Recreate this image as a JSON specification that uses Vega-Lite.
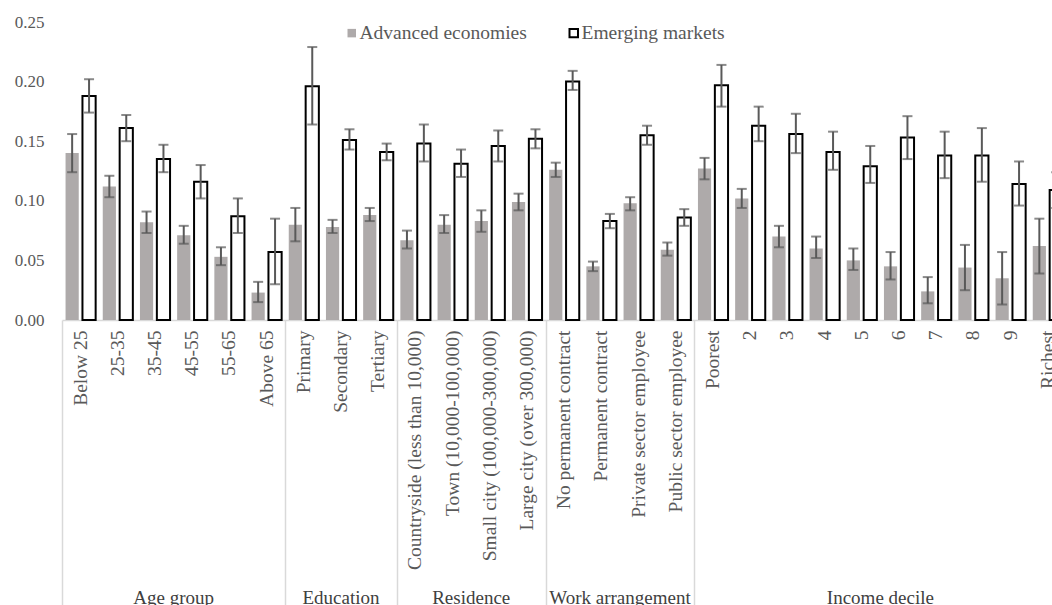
{
  "$schema": "https://vega.github.io/schema/vega-lite/v6.json",
  "autosize": "none",
  "width": 990,
  "height": 298,
  "padding": {"left": 62, "top": 22, "right": 0, "bottom": 285},
  "background": "#ffffff",
  "config": {
    "view": {"stroke": null},
    "font": "Liberation Serif",
    "axis": {"grid": false, "labelFont": "Liberation Serif", "labelColor": "#595959", "title": null}
  },
  "data": {
    "values": [
      {"group": "Age group", "category": "Below 25", "series": "Advanced economies", "value": 0.140, "lo": 0.124, "hi": 0.156},
      {"group": "Age group", "category": "Below 25", "series": "Emerging markets", "value": 0.188, "lo": 0.174, "hi": 0.202},
      {"group": "Age group", "category": "25-35", "series": "Advanced economies", "value": 0.112, "lo": 0.103, "hi": 0.121},
      {"group": "Age group", "category": "25-35", "series": "Emerging markets", "value": 0.161, "lo": 0.150, "hi": 0.172},
      {"group": "Age group", "category": "35-45", "series": "Advanced economies", "value": 0.082, "lo": 0.073, "hi": 0.091},
      {"group": "Age group", "category": "35-45", "series": "Emerging markets", "value": 0.135, "lo": 0.124, "hi": 0.147},
      {"group": "Age group", "category": "45-55", "series": "Advanced economies", "value": 0.071, "lo": 0.064, "hi": 0.079},
      {"group": "Age group", "category": "45-55", "series": "Emerging markets", "value": 0.116, "lo": 0.102, "hi": 0.130},
      {"group": "Age group", "category": "55-65", "series": "Advanced economies", "value": 0.053, "lo": 0.046, "hi": 0.061},
      {"group": "Age group", "category": "55-65", "series": "Emerging markets", "value": 0.087, "lo": 0.073, "hi": 0.102},
      {"group": "Age group", "category": "Above 65", "series": "Advanced economies", "value": 0.023, "lo": 0.015, "hi": 0.032},
      {"group": "Age group", "category": "Above 65", "series": "Emerging markets", "value": 0.057, "lo": 0.030, "hi": 0.085},
      {"group": "Education", "category": "Primary", "series": "Advanced economies", "value": 0.080, "lo": 0.066, "hi": 0.094},
      {"group": "Education", "category": "Primary", "series": "Emerging markets", "value": 0.196, "lo": 0.164, "hi": 0.229},
      {"group": "Education", "category": "Secondary", "series": "Advanced economies", "value": 0.078, "lo": 0.073, "hi": 0.084},
      {"group": "Education", "category": "Secondary", "series": "Emerging markets", "value": 0.151, "lo": 0.143, "hi": 0.160},
      {"group": "Education", "category": "Tertiary", "series": "Advanced economies", "value": 0.088, "lo": 0.083, "hi": 0.094},
      {"group": "Education", "category": "Tertiary", "series": "Emerging markets", "value": 0.141, "lo": 0.134, "hi": 0.148},
      {"group": "Residence", "category": "Countryside (less than 10,000)", "series": "Advanced economies", "value": 0.067, "lo": 0.060, "hi": 0.075},
      {"group": "Residence", "category": "Countryside (less than 10,000)", "series": "Emerging markets", "value": 0.148, "lo": 0.133, "hi": 0.164},
      {"group": "Residence", "category": "Town (10,000-100,000)", "series": "Advanced economies", "value": 0.080, "lo": 0.073, "hi": 0.088},
      {"group": "Residence", "category": "Town (10,000-100,000)", "series": "Emerging markets", "value": 0.131, "lo": 0.120, "hi": 0.143},
      {"group": "Residence", "category": "Small city (100,000-300,000)", "series": "Advanced economies", "value": 0.083, "lo": 0.074, "hi": 0.092},
      {"group": "Residence", "category": "Small city (100,000-300,000)", "series": "Emerging markets", "value": 0.146, "lo": 0.133, "hi": 0.159},
      {"group": "Residence", "category": "Large city (over 300,000)", "series": "Advanced economies", "value": 0.099, "lo": 0.092, "hi": 0.106},
      {"group": "Residence", "category": "Large city (over 300,000)", "series": "Emerging markets", "value": 0.152, "lo": 0.144, "hi": 0.160},
      {"group": "Work arrangement", "category": "No permanent contract", "series": "Advanced economies", "value": 0.126, "lo": 0.120, "hi": 0.132},
      {"group": "Work arrangement", "category": "No permanent contract", "series": "Emerging markets", "value": 0.200, "lo": 0.193, "hi": 0.209},
      {"group": "Work arrangement", "category": "Permanent contract", "series": "Advanced economies", "value": 0.045, "lo": 0.041, "hi": 0.049},
      {"group": "Work arrangement", "category": "Permanent contract", "series": "Emerging markets", "value": 0.083, "lo": 0.077, "hi": 0.089},
      {"group": "Work arrangement", "category": "Private sector employee", "series": "Advanced economies", "value": 0.098, "lo": 0.092, "hi": 0.103},
      {"group": "Work arrangement", "category": "Private sector employee", "series": "Emerging markets", "value": 0.155, "lo": 0.147, "hi": 0.163},
      {"group": "Work arrangement", "category": "Public sector employee", "series": "Advanced economies", "value": 0.059, "lo": 0.054, "hi": 0.065},
      {"group": "Work arrangement", "category": "Public sector employee", "series": "Emerging markets", "value": 0.086, "lo": 0.079, "hi": 0.093},
      {"group": "Income decile", "category": "Poorest", "series": "Advanced economies", "value": 0.127, "lo": 0.118, "hi": 0.136},
      {"group": "Income decile", "category": "Poorest", "series": "Emerging markets", "value": 0.197, "lo": 0.179, "hi": 0.214},
      {"group": "Income decile", "category": "2", "series": "Advanced economies", "value": 0.102, "lo": 0.094, "hi": 0.110},
      {"group": "Income decile", "category": "2", "series": "Emerging markets", "value": 0.163, "lo": 0.150, "hi": 0.179},
      {"group": "Income decile", "category": "3", "series": "Advanced economies", "value": 0.070, "lo": 0.061, "hi": 0.079},
      {"group": "Income decile", "category": "3", "series": "Emerging markets", "value": 0.156, "lo": 0.140, "hi": 0.173},
      {"group": "Income decile", "category": "4", "series": "Advanced economies", "value": 0.060, "lo": 0.052, "hi": 0.070},
      {"group": "Income decile", "category": "4", "series": "Emerging markets", "value": 0.141, "lo": 0.126, "hi": 0.158},
      {"group": "Income decile", "category": "5", "series": "Advanced economies", "value": 0.050, "lo": 0.042, "hi": 0.060},
      {"group": "Income decile", "category": "5", "series": "Emerging markets", "value": 0.129, "lo": 0.115, "hi": 0.146},
      {"group": "Income decile", "category": "6", "series": "Advanced economies", "value": 0.045, "lo": 0.034, "hi": 0.057},
      {"group": "Income decile", "category": "6", "series": "Emerging markets", "value": 0.153, "lo": 0.135, "hi": 0.171},
      {"group": "Income decile", "category": "7", "series": "Advanced economies", "value": 0.024, "lo": 0.014, "hi": 0.036},
      {"group": "Income decile", "category": "7", "series": "Emerging markets", "value": 0.138, "lo": 0.119, "hi": 0.158},
      {"group": "Income decile", "category": "8", "series": "Advanced economies", "value": 0.044, "lo": 0.025, "hi": 0.063},
      {"group": "Income decile", "category": "8", "series": "Emerging markets", "value": 0.138, "lo": 0.116, "hi": 0.161},
      {"group": "Income decile", "category": "9", "series": "Advanced economies", "value": 0.035, "lo": 0.013, "hi": 0.057},
      {"group": "Income decile", "category": "9", "series": "Emerging markets", "value": 0.114, "lo": 0.096, "hi": 0.133},
      {"group": "Income decile", "category": "Richest", "series": "Advanced economies", "value": 0.062, "lo": 0.039, "hi": 0.085},
      {"group": "Income decile", "category": "Richest", "series": "Emerging markets", "value": 0.109, "lo": 0.094, "hi": 0.124}
    ]
  },
  "encoding": {
    "xOffset": {
      "field": "series", "type": "nominal",
      "sort": ["Advanced economies", "Emerging markets"],
      "scale": {"paddingInner": 0.22, "paddingOuter": 0.21}
    }
  },
  "resolve": {"axis": {"x": "independent"}},
  "layer": [
    {
      "mark": {"type": "bar", "strokeWidth": 2},
      "encoding": {
        "x": {
          "field": "category", "type": "nominal", "sort": null,
          "scale": {"range": [0, 1004.4], "paddingInner": 0, "paddingOuter": 0},
          "axis": {
            "orient": "bottom", "labelAngle": 270, "labelPadding": 10, "labelFontSize": 19.5,
            "labelLimit": 400, "labelOverlap": false, "ticks": false, "tickSize": 0,
            "domainColor": "#d9d9d9", "domainWidth": 1.5
          }
        },
        "y": {
          "field": "value", "type": "quantitative", "title": null,
          "scale": {"domain": [0, 0.25], "nice": false},
          "axis": {
            "values": [0, 0.05, 0.1, 0.15, 0.2, 0.25], "format": ".2f",
            "domain": false, "ticks": false, "tickSize": 0, "labelPadding": 18, "labelFontSize": 17
          }
        },
        "fill": {
          "field": "series", "type": "nominal",
          "sort": ["Advanced economies", "Emerging markets"],
          "scale": {"range": ["#aeaaaa", "#ffffff"]},
          "legend": {
            "orient": "none", "legendX": 280, "legendY": 1, "direction": "horizontal", "title": null,
            "symbolType": "square", "symbolSize": 72, "symbolStrokeWidth": 2,
            "labelFont": "Liberation Serif", "labelFontSize": 19.5, "labelColor": "#595959",
            "labelLimit": 400, "labelOffset": -2, "columnPadding": 37,
            "encode": {
              "symbols": {"update": {"stroke": {"scale": "stroke", "field": "value"}}}
            }
          }
        },
        "stroke": {
          "field": "series", "type": "nominal",
          "sort": ["Advanced economies", "Emerging markets"],
          "scale": {"range": ["transparent", "#000000"]},
          "legend": null
        }
      }
    },
    {
      "mark": {"type": "rule", "color": "#595959", "strokeWidth": 2},
      "encoding": {
        "x": {
          "field": "category", "type": "nominal", "sort": null,
          "axis": {
            "orient": "bottom",
            "values": ["Below 25", "Primary", "Countryside (less than 10,000)", "No permanent contract", "Poorest"],
            "labels": false, "domain": false, "ticks": true, "tickSize": 290,
            "tickOffset": -18.6, "tickColor": "#d9d9d9", "tickWidth": 1.5
          }
        },
        "y": {"field": "lo", "type": "quantitative", "title": null},
        "y2": {"field": "hi"}
      }
    },
    {
      "mark": {"type": "tick", "orient": "horizontal", "size": 10, "thickness": 2, "color": "#595959"},
      "encoding": {
        "x": {
          "field": "category", "type": "nominal", "sort": null,
          "axis": {
            "orient": "bottom",
            "values": ["45-55", "Secondary", "Small city (100,000-300,000)", "Private sector employee", "6"],
            "labelExpr": "datum.value == '45-55' ? 'Age group' : datum.value == 'Secondary' ? 'Education' : datum.value == '6' ? 'Income decile' : datum.value == 'Private sector employee' ? 'Work arrangement' : 'Residence'",
            "labelAngle": 0, "labelAlign": "center", "labelBaseline": "alphabetic",
            "labelPadding": 283, "labelFontSize": 19, "labelColor": "#404040",
            "labelOffset": {"condition": {"test": "datum.value == 'Secondary'", "value": 0}, "value": -18.6},
            "labelOverlap": false, "labelLimit": 400,
            "domain": false, "ticks": false, "tickSize": 0
          }
        },
        "y": {"field": "lo", "type": "quantitative", "title": null}
      }
    },
    {
      "mark": {"type": "tick", "orient": "horizontal", "size": 10, "thickness": 2, "color": "#595959"},
      "encoding": {
        "x": {"field": "category", "type": "nominal", "sort": null, "axis": null},
        "y": {"field": "hi", "type": "quantitative", "title": null}
      }
    }
  ]
}
